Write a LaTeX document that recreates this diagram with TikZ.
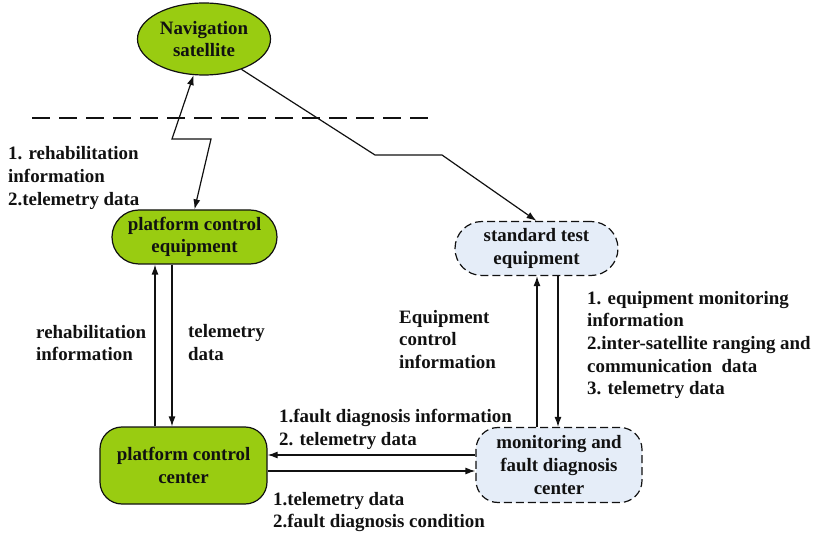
\documentclass[tikz,border=0pt]{standalone}
\usepackage{fontspec}
\setmainfont{Liberation Serif}
\usetikzlibrary{arrows.meta,shapes.geometric}
\definecolor{leaf}{HTML}{99CC11}
\definecolor{mist}{HTML}{E5EDF8}
\definecolor{ink}{HTML}{111111}
\begin{document}
\begin{tikzpicture}[x=1pt,y=-1pt,
  every node/.style={font=\fontsize{18.9}{22.6}\selectfont\bfseries,text=ink},
  solidbox/.style={draw=ink,line width=1.2pt,fill=leaf,align=center,inner sep=0pt},
  dashbox/.style={draw=ink,line width=1.2pt,fill=mist,align=center,inner sep=0pt,
    dash pattern=on 8pt off 4pt},
  label/.style={align=left,anchor=west,inner sep=0pt},
  link/.style={draw=ink,line width=1.2pt,-{Latex[length=10pt,width=7pt]}},
  blink/.style={draw=ink,line width=1.2pt,{Latex[length=10pt,width=7pt]}-{Latex[length=10pt,width=7pt]}}]
\useasboundingbox (0,0) rectangle (814,537);

% nodes
\node[ellipse,solidbox,minimum width=133pt,minimum height=72pt] (sat) at (204,39)
  {Navigation\\satellite};
\node[solidbox,minimum width=165pt,minimum height=54pt,rounded corners=27pt] (pce) at (194.5,237)
  {platform control\\equipment};
\node[dashbox,minimum width=163pt,minimum height=54pt,rounded corners=27pt] (ste) at (536.5,248.5)
  {standard test\\equipment};
\node[solidbox,minimum width=167pt,minimum height=77pt,rounded corners=22pt] (pcc) at (183.5,465.5)
  {platform control\\center};
\node[dashbox,minimum width=166pt,minimum height=75pt,rounded corners=22pt] (mfdc) at (559,465)
  {monitoring and\\fault diagnosis\\center};

% boundary between space and ground
\draw[ink,line width=2pt,dash pattern=on 18pt off 9pt] (32,118) -- (432,118);

% guide coordinates for parallel connectors
\coordinate (xa) at (155,0);
\coordinate (xb) at (172,0);
\coordinate (xc) at (537,0);
\coordinate (xd) at (558,0);
\coordinate (ya) at (0,455);
\coordinate (yb) at (0,471);

% connectors
\draw[blink] (sat.-106) -- (172,139) -- (211,139) -- (pce.north);
\draw[link] (sat.-39) -- (375,155) -- (442,155) -- (ste.north);
\draw[link] (xa |- pcc.north) -- (xa |- pce.south);
\draw[link] (xb |- pce.south) -- (xb |- pcc.north);
\draw[link] (xc |- mfdc.north) -- (xc |- ste.south);
\draw[link] (xd |- ste.south) -- (xd |- mfdc.north);
\draw[link] (mfdc.west |- ya) -- (pcc.east |- ya);
\draw[link] (pcc.east |- yb) -- (mfdc.west |- yb);

% labels
\node[label] (l1) at (8,178) {1. rehabilitation\\information\\2.telemetry data};
\node[label] (l2) at (36,343) {rehabilitation\\information};
\node[label] (l3) at (188,342.5) {telemetry\\data};
\node[label] (l4) at (399,339.5) {Equipment\\control\\information};
\node[label] (l5) at (587,345) {1. equipment monitoring\\information\\2.inter-satellite ranging and\\communication~ data\\3. telemetry data};
\node[label] (l6) at (279,429.5) {1.fault diagnosis information\\2. telemetry data};
\node[label] (l7) at (273,512) {1.telemetry data\\2.fault diagnosis condition};
\end{tikzpicture}
\end{document}
